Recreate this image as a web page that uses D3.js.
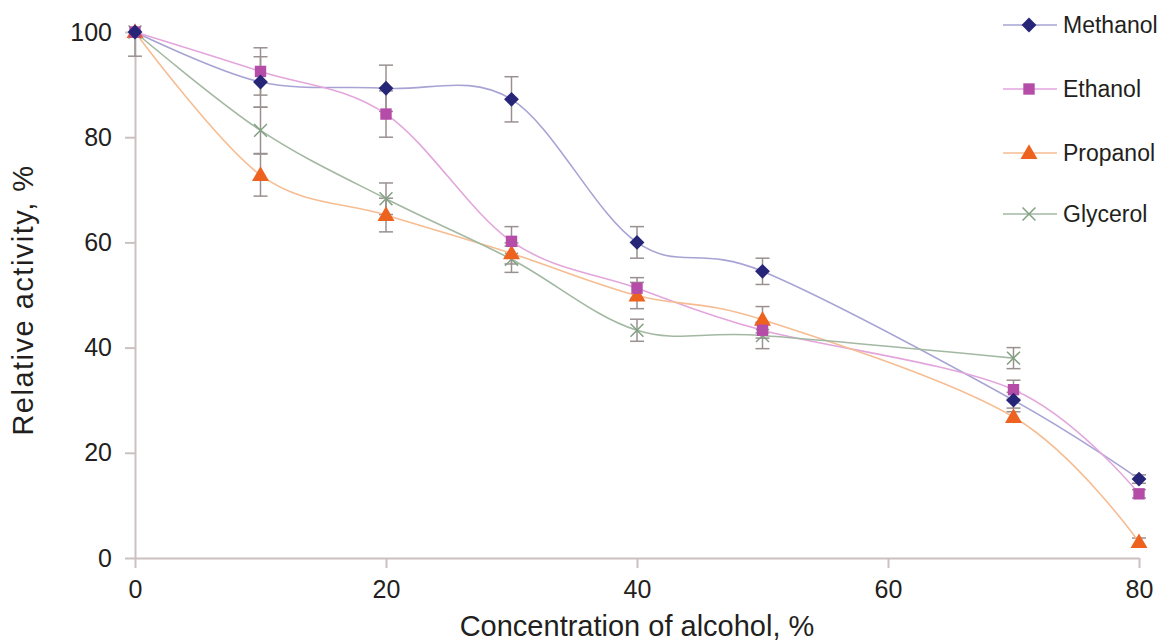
<!DOCTYPE html>
<html><head><meta charset="utf-8">
<script src="https://cdn.jsdelivr.net/npm/d3@7"></script>
<style>
body{margin:0;background:#fff;}
text{font-family:"Liberation Sans",Arial,sans-serif;fill:#231f20;}
</style></head>
<body><svg id="c" width="1163" height="642"></svg>
<script>
const xValues = [0, 10, 20, 30, 40, 50, 70, 80];
const methanol = [100, 90.5, 89.3, 87.2, 60, 54.5, 30, 15];
const ethanol  = [100, 92.5, 84.4, 60.2, 51.3, 43.3, 32, 12.2];
const propanol = [100, 72.8, 65.2, 57.9, 49.9, 45.3, 26.8, 3];
const glycerol = [100, 81.3, 68.3, 56.8, 43.3, 42.3, 38];
const methanolErr = [0, 4.8, 4.4, 4.3, 3, 2.5, 1.5, 0.8];
const ethanolErr  = [0, 4.5, 4.4, 2.8, 2, 1.5, 1.8, 0.8];
const propanolErr = [4.6, 4, 3.2, 2.0, 2.5, 2.5, 1, 0.8];
const glycerolErr = [0, 4.4, 3.0, 2.5, 2.1, 2.5, 2];
const xTicks = [0, 20, 40, 60, 80];
const yTicks = [0, 20, 40, 60, 80, 100];

const series = [
  {name:"Methanol", vals:methanol, err:methanolErr, line:"#a7a3d4", mark:"#262578", sym:"diamond"},
  {name:"Ethanol", vals:ethanol, err:ethanolErr, line:"#e3a6dc", mark:"#b54da8", sym:"square"},
  {name:"Propanol", vals:propanol, err:propanolErr, line:"#f6bd92", mark:"#ee6220", sym:"triangle"},
  {name:"Glycerol", vals:glycerol, err:glycerolErr, line:"#a3b8a3", mark:"#82a082", sym:"x"}
];

const svg = d3.select("#c");
const x = d3.scaleLinear().domain([0,80]).range([135,1139]);
const y = d3.scaleLinear().domain([0,100]).range([558,32]);
const axisColor = "#cbc1c1";

// axes
const xa = svg.append("g").attr("transform","translate(0,558)")
  .call(d3.axisBottom(x).tickValues(xTicks).tickSize(10).tickPadding(12).tickSizeOuter(0));
const ya = svg.append("g").attr("transform","translate(135,0)")
  .call(d3.axisLeft(y).tickValues(yTicks).tickSize(10).tickPadding(13).tickSizeOuter(0));
[xa,ya].forEach(a=>{
  a.attr("font-size",null).attr("font-family",null);
  a.selectAll("path,line").attr("stroke",axisColor).attr("stroke-width",2);
  a.selectAll("text").attr("font-size","25px").style("font-size","25px").attr("fill","#231f20");
});

// error bars (clipped to the plot's 0..100 range)
const eg = svg.append("g");
series.forEach(s=>{
  s.vals.forEach((v,i)=>{
    const e = s.err[i]; if(!e) return;
    const cx = x(xValues[i]);
    const hi = Math.min(v+e,100), lo = Math.max(v-e,0);
    eg.append("line").attr("x1",cx).attr("x2",cx).attr("y1",y(hi)).attr("y2",y(lo))
      .attr("stroke","#9a9090").attr("stroke-width",1.5);
    [v+e,v-e].filter(t=>t<=100&&t>=0).forEach(t=>eg.append("line").attr("x1",cx-7).attr("x2",cx+7).attr("y1",y(t)).attr("y2",y(t))
      .attr("stroke","#9a9090").attr("stroke-width",1.5));
  });
});

// lines
const line = d3.line().x((d,i)=>x(xValues[i])).y(d=>y(d)).curve(d3.curveCatmullRom.alpha(0));
series.forEach(s=>{
  svg.append("path").attr("d",line(s.vals)).attr("fill","none").attr("stroke",s.line).attr("stroke-width",1.6);
});

function drawMarker(g, s, cx, cy){
  if(s.sym==="diamond"){
    g.append("path").attr("d",d3.symbol(d3.symbolDiamond2,140)()).attr("transform",`translate(${cx},${cy})`).attr("fill",s.mark);
  } else if(s.sym==="square"){
    g.append("path").attr("d",d3.symbol(d3.symbolSquare,130)()).attr("transform",`translate(${cx},${cy})`).attr("fill",s.mark);
  } else if(s.sym==="triangle"){
    g.append("path").attr("d",d3.symbol(d3.symbolTriangle,125)()).attr("transform",`translate(${cx},${cy+1})`).attr("fill",s.mark);
  } else {
    g.append("path").attr("d",d3.symbol(d3.symbolX,110)()).attr("transform",`translate(${cx},${cy})`)
      .attr("fill","none").attr("stroke",s.mark).attr("stroke-width",1.5);
  }
}
const mg = svg.append("g");
[series[3],series[2],series[1],series[0]].forEach(s=>{
  s.vals.forEach((v,i)=>drawMarker(mg,s,x(xValues[i]),y(v)));
});

// legend
const legY = [25, 89, 153, 214];
series.forEach((s,i)=>{
  const g = svg.append("g");
  g.append("line").attr("x1",1003).attr("x2",1057).attr("y1",legY[i]).attr("y2",legY[i]).attr("stroke",s.line).attr("stroke-width",1.6);
  drawMarker(g,s,1029,legY[i]);
  g.append("text").attr("x",1063).attr("y",legY[i]).attr("dy","0.35em").style("font-size","23px").text(s.name);
});

// axis titles
svg.append("text").attr("x",637).attr("y",636).attr("text-anchor","middle").style("font-size","29px").text("Concentration of alcohol, %");
svg.append("text").attr("transform","translate(33,300) rotate(-90)").attr("text-anchor","middle")
  .style("font-size","29px").style("letter-spacing","1.5px").text("Relative activity, %");
</script></body></html>
